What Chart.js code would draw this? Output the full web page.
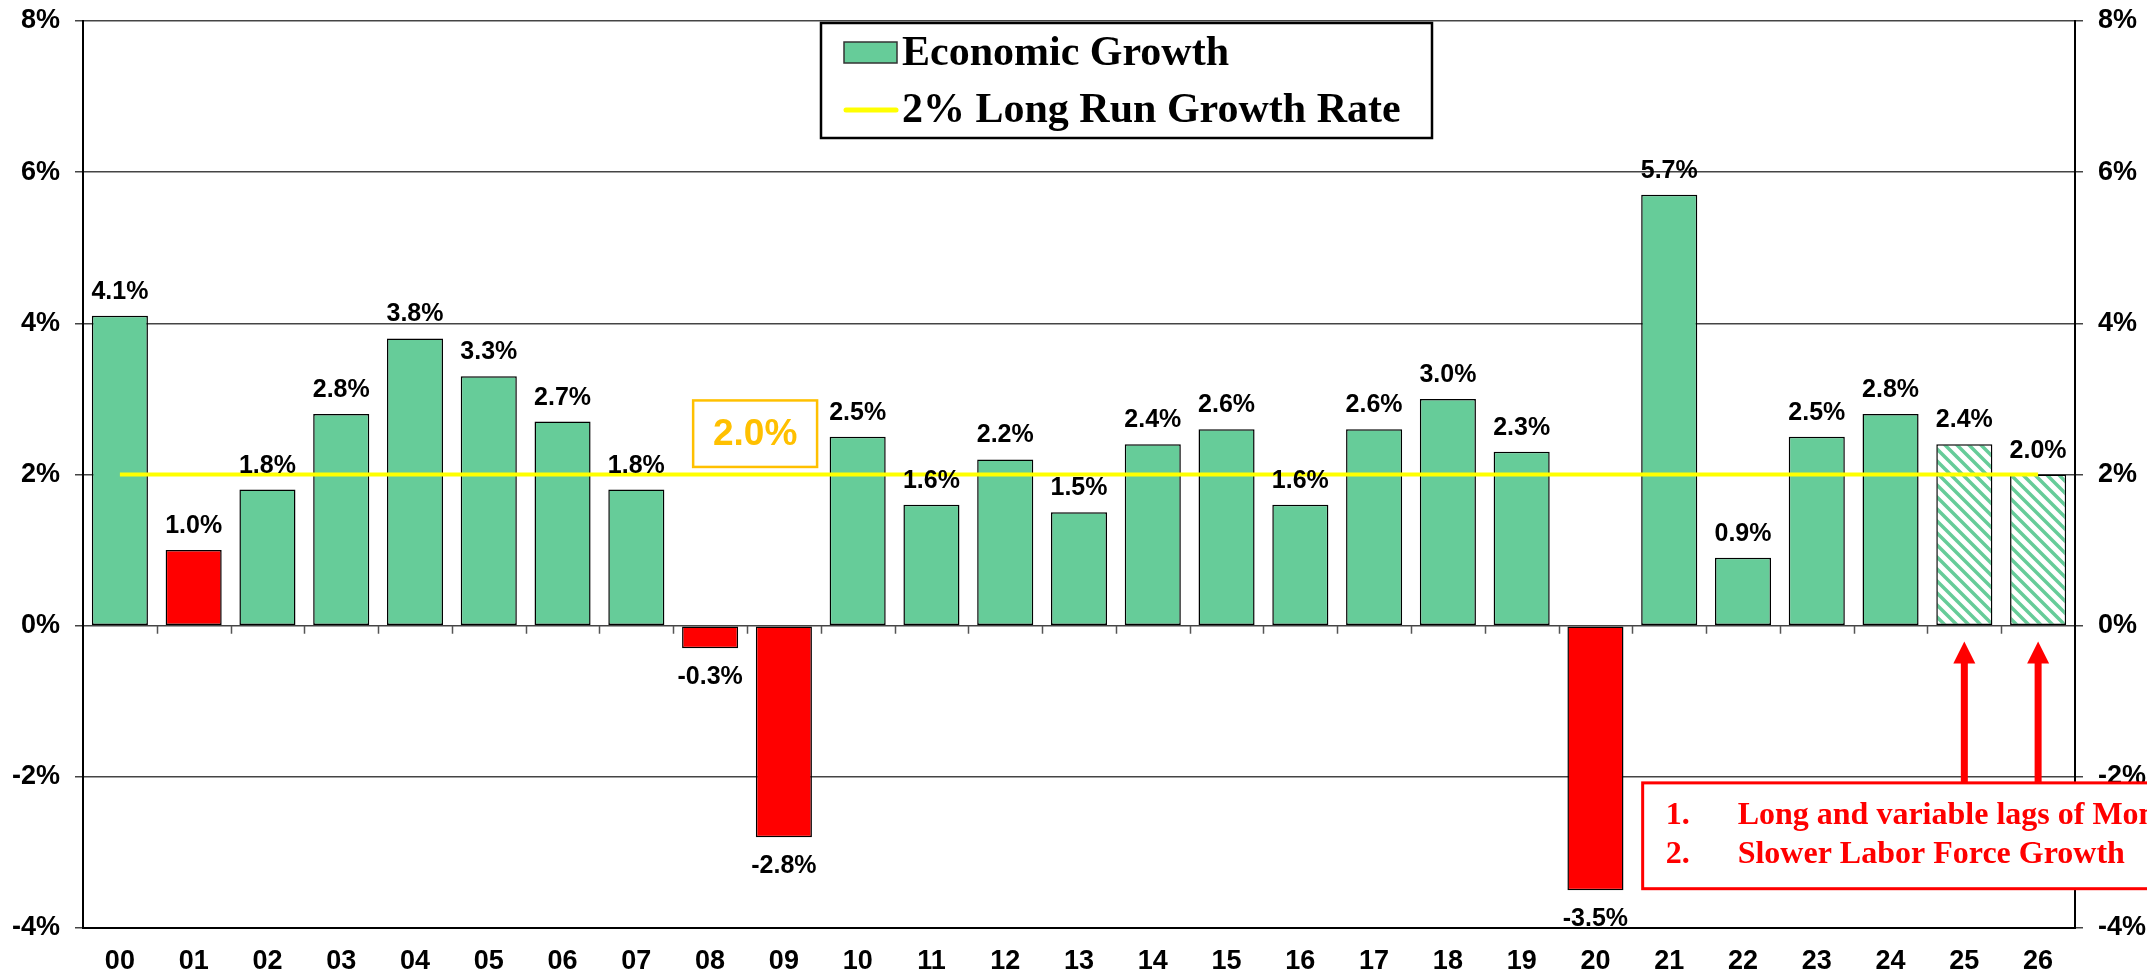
<!DOCTYPE html>
<html>
<head>
<meta charset="utf-8">
<script src="https://cdn.jsdelivr.net/npm/chart.js@4.4.0/dist/chart.umd.min.js"></script>
<style>
  html, body { margin: 0; padding: 0; background: #fff; overflow: hidden; }
</style>
</head>
<body>
<canvas id="growth" width="2147" height="973"></canvas>
<script>
// --- data ---
const years = ['00', '01', '02', '03', '04', '05', '06', '07', '08', '09', '10', '11', '12', '13',
  '14', '15', '16', '17', '18', '19', '20', '21', '22', '23', '24', '25', '26'];
const growth = [4.1, 1.0, 1.8, 2.8, 3.8, 3.3, 2.7, 1.8, -0.3, -2.8, 2.5, 1.6, 2.2, 1.5,
  2.4, 2.6, 1.6, 2.6, 3.0, 2.3, -3.5, 5.7, 0.9, 2.5, 2.8, 2.4, 2.0];
const longRun = [2.0, 2.0, 2.0, 2.0, 2.0, 2.0, 2.0, 2.0, 2.0, 2.0, 2.0, 2.0, 2.0, 2.0,
  2.0, 2.0, 2.0, 2.0, 2.0, 2.0, 2.0, 2.0, 2.0, 2.0, 2.0, 2.0, 2.0];
const recessionYears = ['01', '08', '09', '20'];
const forecastYears = ['25', '26'];
const yTicks = [-4, -2, 0, 2, 4, 6, 8];
const notes = ['Long and variable lags of Monetary Policy', 'Slower Labor Force Growth'];

const GREEN = '#66CC99';
const RED = '#FF0000';
const YELLOW = '#FFFF00';
const ORANGE = '#FFC000';
const SANS = '"Liberation Sans", Arial, sans-serif';
const SERIF = '"Liberation Serif", "Times New Roman", serif';

const canvas = document.getElementById('growth');
const ctx = canvas.getContext('2d');

// hachures pour les années de prévision
function makeHatch() {
  const c = document.createElement('canvas');
  c.width = 12; c.height = 12;
  const g = c.getContext('2d');
  g.fillStyle = '#fff';
  g.fillRect(0, 0, 12, 12);
  g.strokeStyle = GREEN;
  g.lineWidth = 3.5;
  g.beginPath();
  g.moveTo(-6, 6); g.lineTo(6, 18);
  g.moveTo(0, 0); g.lineTo(12, 12);
  g.moveTo(6, -6); g.lineTo(18, 6);
  g.stroke();
  return ctx.createPattern(c, 'repeat');
}
const hatch = makeHatch();

function barColor(i) {
  const yr = years[i];
  if (forecastYears.includes(yr)) return hatch;
  if (recessionYears.includes(yr)) return RED;
  return GREEN;
}

const overlay = {
  id: 'overlay',
  afterDatasetsDraw(chart) {
    const c = chart.ctx;
    const xs = chart.scales.x;
    const ys = chart.scales.y;
    const y0 = ys.getPixelForValue(0);

    // petites graduations sur la ligne zéro
    c.save();
    c.strokeStyle = '#555';
    c.lineWidth = 1.5;
    c.beginPath();
    for (let k = 0; k < years.length - 1; k++) {
      const x = Math.round(xs.getPixelForValue(k + 0.5)) + 0.5;
      c.moveTo(x, y0);
      c.lineTo(x, y0 + 8);
    }
    c.stroke();

    // étiquettes des barres
    const meta = chart.getDatasetMeta(0);
    c.fillStyle = '#000';
    c.font = `bold 25px ${SANS}`;
    c.textAlign = 'center';
    c.textBaseline = 'alphabetic';
    meta.data.forEach((bar, i) => {
      const v = growth[i];
      const txt = v.toFixed(1) + '%';
      if (v >= 0) c.fillText(txt, bar.x, bar.y - 17);
      else c.fillText(txt, bar.x, bar.y + 36);
    });
    c.restore();
  },
  afterDraw(chart) {
    const c = chart.ctx;
    const xs = chart.scales.x;
    const ys = chart.scales.y;
    const area = chart.chartArea;
    c.save();

    // légende
    const lx = area.left + 738, ly = area.top + 2, lw = 611, lh = 115;
    c.fillStyle = '#fff';
    c.fillRect(lx, ly, lw, lh);
    c.strokeStyle = '#000';
    c.lineWidth = 2.5;
    c.strokeRect(lx, ly, lw, lh);
    c.fillStyle = GREEN;
    c.fillRect(lx + 23, ly + 19, 53, 21);
    c.strokeStyle = '#333';
    c.lineWidth = 1.5;
    c.strokeRect(lx + 23, ly + 19, 53, 21);
    c.strokeStyle = YELLOW;
    c.lineWidth = 5;
    c.lineCap = 'round';
    c.beginPath();
    c.moveTo(lx + 25, ly + 87);
    c.lineTo(lx + 75, ly + 87);
    c.stroke();
    c.fillStyle = '#000';
    c.font = `bold 42px ${SERIF}`;
    c.textAlign = 'left';
    c.fillText(chart.data.datasets[0].label, lx + 81, ly + 42);
    c.fillText(chart.data.datasets[1].label, lx + 81, ly + 99);

    // encadré 2.0%
    const bx1 = xs.getPixelForValue(7.77), bx2 = xs.getPixelForValue(9.45);
    const by1 = ys.getPixelForValue(2.98), by2 = ys.getPixelForValue(2.10);
    c.fillStyle = '#fff';
    c.fillRect(bx1, by1, bx2 - bx1, by2 - by1);
    c.strokeStyle = ORANGE;
    c.lineWidth = 2.5;
    c.strokeRect(bx1, by1, bx2 - bx1, by2 - by1);
    c.fillStyle = ORANGE;
    c.font = `bold 37px ${SANS}`;
    c.textAlign = 'center';
    c.textBaseline = 'middle';
    c.fillText(longRun[0].toFixed(1) + '%', (bx1 + bx2) / 2, (by1 + by2) / 2 + 1);

    // encadré rouge
    const nx = xs.getPixelForValue(20.64);
    const ny1 = ys.getPixelForValue(-2.08), ny2 = ys.getPixelForValue(-3.48);

    // flèches
    c.fillStyle = RED;
    forecastYears.forEach(yr => {
      const x = xs.getPixelForValue(years.indexOf(yr));
      const top = ys.getPixelForValue(-0.21);
      c.beginPath();
      c.moveTo(x, top);
      c.lineTo(x + 11, top + 22);
      c.lineTo(x - 11, top + 22);
      c.closePath();
      c.fill();
      c.fillRect(x - 3.5, top + 20, 7, ny1 - top - 20);
    });

    c.fillStyle = '#fff';
    c.fillRect(nx, ny1, chart.width + 20 - nx, ny2 - ny1);
    c.strokeStyle = RED;
    c.lineWidth = 3;
    c.strokeRect(nx, ny1, chart.width + 20 - nx, ny2 - ny1);
    c.fillStyle = RED;
    c.font = `bold 32px ${SERIF}`;
    c.textAlign = 'left';
    c.textBaseline = 'alphabetic';
    notes.forEach((t, i) => {
      c.fillText((i + 1) + '.', nx + 23, ny1 + 41 + i * 39);
      c.fillText(t, nx + 95, ny1 + 41 + i * 39);
    });
    c.restore();
  }
};

const tickFont = { family: SANS, size: 27, weight: 'bold' };
const pct = v => v + '%';
const fixY = w => s => { s.width = w; s.paddingTop = 0; s.paddingBottom = 0; };

new Chart(ctx, {
  data: {
    labels: years,
    datasets: [
      {
        type: 'bar',
        label: 'Economic Growth',
        data: growth,
        backgroundColor: c => barColor(c.dataIndex),
        borderColor: '#000',
        borderWidth: 1.5,
        borderSkipped: false,
        barPercentage: 0.76,
        categoryPercentage: 1.0,
        order: 1
      },
      {
        type: 'line',
        label: '2% Long Run Growth Rate',
        data: longRun,
        borderColor: YELLOW,
        borderWidth: 4,
        pointRadius: 0,
        fill: false,
        order: 0
      }
    ]
  },
  options: {
    responsive: false,
    animation: false,
    layout: { padding: { top: 21, left: 0, right: 0, bottom: 0 } },
    plugins: {
      legend: { display: false },
      tooltip: { enabled: false }
    },
    scales: {
      x: {
        grid: { display: false, drawTicks: false },
        border: { display: true, color: '#000', width: 2 },
        ticks: { color: '#000', font: tickFont, padding: 17, maxRotation: 0, autoSkip: false },
        afterFit: s => { s.height = 45; }
      },
      y: {
        min: yTicks[0],
        max: yTicks[yTicks.length - 1],
        afterBuildTicks: s => { s.ticks = yTicks.map(v => ({ value: v })); },
        ticks: { color: '#000', font: tickFont, padding: 15, callback: pct },
        grid: { color: '#444', lineWidth: 1.5, tickLength: 8 },
        border: { display: true, color: '#000', width: 2 },
        afterFit: fixY(83)
      },
      y2: {
        position: 'right',
        min: yTicks[0],
        max: yTicks[yTicks.length - 1],
        afterBuildTicks: s => { s.ticks = yTicks.map(v => ({ value: v })); },
        ticks: { color: '#000', font: tickFont, padding: 15, callback: pct },
        grid: { drawOnChartArea: false, color: '#444', lineWidth: 1.5, tickLength: 8 },
        border: { display: true, color: '#000', width: 2 },
        afterFit: fixY(72)
      }
    }
  },
  plugins: [overlay]
});
</script>
</body>
</html>
